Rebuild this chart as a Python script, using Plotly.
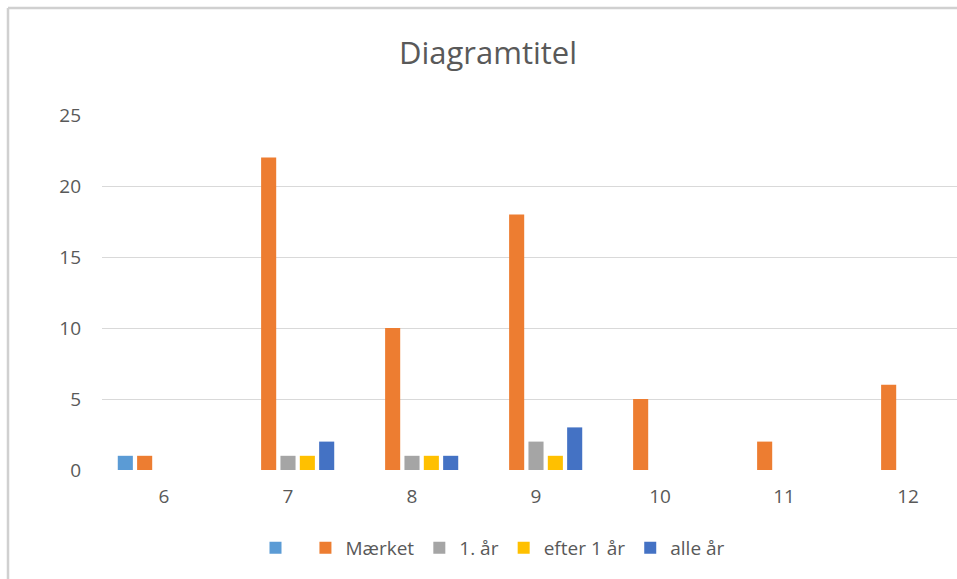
import plotly.graph_objects as go

# ---- data ----
categories = ["6", "7", "8", "9", "10", "11", "12"]
series_names = [" ", "Mærket", "1. år", "efter 1 år", "alle år"]
s_blank = [1, 0, 0, 0, 0, 0, 0]
s_maerket = [1, 22, 10, 18, 5, 2, 6]
s_aar1 = [0, 1, 1, 2, 0, 0, 0]
s_efter1 = [0, 1, 1, 1, 0, 0, 0]
s_alle = [0, 2, 1, 3, 0, 0, 0]
y_ticks = [0, 5, 10, 15, 20, 25]

series_values = [s_blank, s_maerket, s_aar1, s_efter1, s_alle]
colors = ["#5B9BD5", "#ED7D31", "#A5A5A5", "#FFC000", "#4472C4"]

W, H = 957, 579
ML, MR, MT, MB = 102, 0, 115, 109
FONT = "Open Sans"
TXT = "#595959"

fig = go.Figure()
for name, vals, col in zip(series_names, series_values, colors):
    fig.add_trace(go.Bar(
        x=categories, y=vals, name=name,
        marker=dict(color=col, line=dict(width=0)),
    ))

pw = W - ML - MR
ph = H - MT - MB


def px_x(p):
    return (p - ML) / pw


def px_y(p):
    return (H - MB - p) / ph


# chart-area border (top and left edges visible in the reference)
fig.add_shape(type="line", xref="paper", yref="paper",
              x0=px_x(8), x1=px_x(W + 5), y0=px_y(8), y1=px_y(8),
              line=dict(color="#D0D0D0", width=2.5), layer="above")
fig.add_shape(type="line", xref="paper", yref="paper",
              x0=px_x(8), x1=px_x(8), y0=px_y(8), y1=px_y(H + 5),
              line=dict(color="#D0D0D0", width=2.5), layer="above")

fig.update_layout(
    width=W, height=H,
    margin=dict(l=ML, r=MR, t=MT, b=MB, pad=0),
    paper_bgcolor="white", plot_bgcolor="white",
    barmode="group", bargap=0.22, bargroupgap=0.22,
    font=dict(family=FONT, color=TXT),
    title=dict(text="Diagramtitel", x=488 / W, xref="container",
               xanchor="center", y=1 - 53 / H, yanchor="middle",
               font=dict(family=FONT, size=31, color=TXT)),
    showlegend=True,
    legend=dict(orientation="h", x=px_x(493), xanchor="center",
                y=px_y(548), yanchor="middle",
                font=dict(family=FONT, size=19, color=TXT),
                itemwidth=30, traceorder="normal"),
    xaxis=dict(type="category", range=[-0.5, (W - ML) / 124 - 0.5],
               showgrid=False, showline=False, ticks="",
               tickfont=dict(family=FONT, size=19, color=TXT),
               ticklabelstandoff=13),
    yaxis=dict(range=[0, 25], tickvals=y_ticks, showgrid=True,
               gridcolor="#D9D9D9", gridwidth=1, zeroline=False,
               showline=False, ticks="",
               tickfont=dict(family=FONT, size=19, color=TXT),
               ticklabelstandoff=20),
)

fig.write_html(
    "out.html",
    config={"displayModeBar": False},
    post_script="document.body.style.margin='0';document.body.style.overflow='hidden';",
)
